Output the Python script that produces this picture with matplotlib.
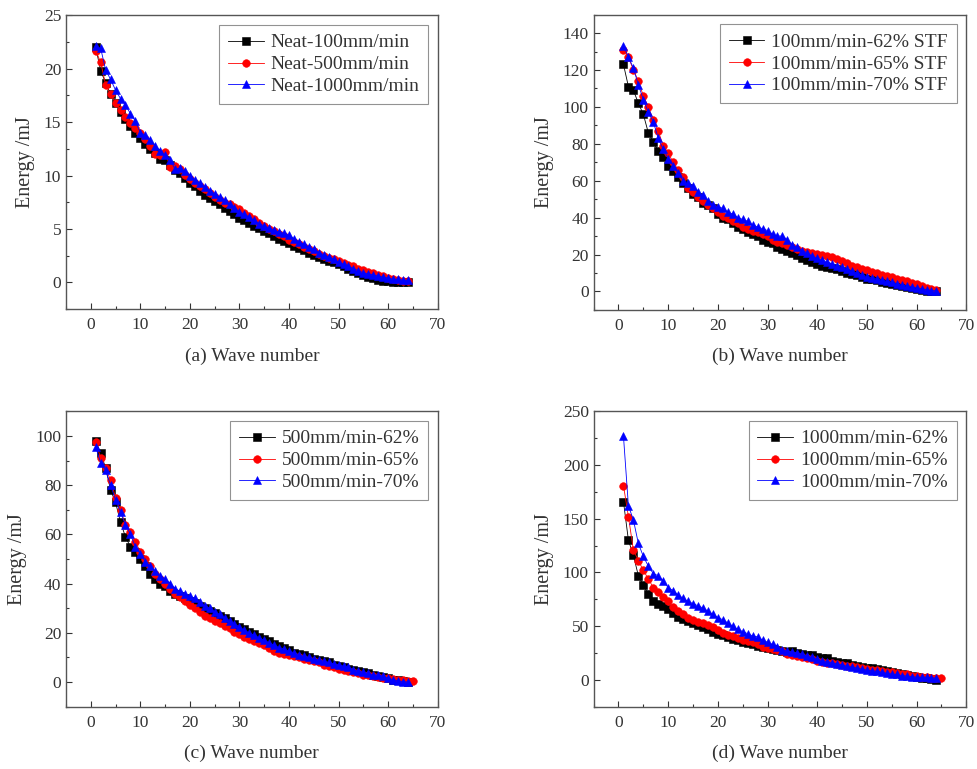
import matplotlib
matplotlib.use("Agg")
import matplotlib.pyplot as plt
from matplotlib.ticker import MultipleLocator, AutoMinorLocator

plt.rcParams['font.family'] = ['Liberation Serif', 'DejaVu Serif']

# ---------------- data ----------------
# (a) neat
a_labels = ["Neat-100mm/min", "Neat-500mm/min", "Neat-1000mm/min"]
a_black = [22.0, 19.8, 18.7, 17.6, 16.8, 16.0, 15.3, 14.6, 14.0, 13.5, 13.0, 12.5, 12.1, 11.6, 11.5,
           11.0, 10.5, 10.2, 9.8, 9.3, 9.0, 8.6, 8.2, 7.9, 7.6, 7.3, 7.0, 6.7, 6.4, 6.0,
           5.8, 5.6, 5.3, 5.1, 4.8, 4.6, 4.3, 4.1, 3.9, 3.7, 3.4, 3.2, 3.0, 2.8, 2.6,
           2.4, 2.2, 2.0, 1.9, 1.7, 1.5, 1.3, 1.1, 0.9, 0.7, 0.5, 0.4, 0.25, 0.15, 0.1,
           0.05, 0.0, 0.0, 0.0]
a_red = [21.7, 20.6, 18.5, 17.6, 16.8, 16.1, 15.5, 14.9, 14.5, 14.0, 13.4, 12.8, 12.0, 11.9, 12.2,
         10.8, 10.9, 10.6, 10.1, 9.7, 9.3, 9.0, 8.7, 8.4, 8.0, 7.7, 7.4, 7.3, 7.1, 6.9,
         6.5, 6.2, 5.9, 5.6, 5.3, 5.0, 4.8, 4.5, 4.3, 4.0, 3.8, 3.6, 3.3, 3.1, 2.9,
         2.7, 2.5, 2.3, 2.2, 2.0, 1.8, 1.6, 1.5, 1.3, 1.2, 1.0, 0.9, 0.7, 0.6, 0.4,
         0.3, 0.2, 0.15, 0.1]
a_blue = [22.1, 21.9, 19.9, 19.0, 18.0, 17.2, 16.6, 15.8, 15.1, 14.0, 13.8, 13.3, 12.8, 12.3, 11.9,
          11.5, 10.6, 10.7, 10.4, 10.0, 9.6, 9.3, 8.9, 8.6, 8.3, 8.0, 7.7, 7.3, 7.0, 6.6,
          6.4, 6.1, 5.8, 5.5, 5.3, 5.1, 4.9, 4.7, 4.6, 4.4, 4.1, 3.8, 3.6, 3.3, 3.1,
          2.8, 2.6, 2.4, 2.2, 1.9, 1.7, 1.5, 1.3, 1.1, 0.9, 0.8, 0.7, 0.6, 0.5, 0.4,
          0.3, 0.3, 0.2, 0.2]

# (b) 100 mm/min
b_labels = ["100mm/min-62% STF", "100mm/min-65% STF", "100mm/min-70% STF"]
b_black = [123, 111, 109, 102, 96, 86, 81, 76, 73, 68, 65, 62, 59, 56, 53,
           51, 48, 47, 45, 42, 40, 39, 37, 35, 34, 32, 31, 30, 28, 27,
           26, 24, 23, 22, 21, 20, 18, 17, 16, 15, 14, 13.5, 12.5, 12, 11,
           10, 9.5, 9, 8, 7, 6.5, 6, 5, 4.5, 4, 3.5, 3, 2.5, 2, 1.5,
           1, 0.5, 0.3, 0]
b_red = [131, 127, 120, 114, 106, 100, 93, 87, 79, 75, 70, 66, 62, 56, 54,
         51, 49, 47, 45, 43, 41, 40, 38, 37, 35, 34, 33, 32, 31, 30,
         28, 27, 26, 25, 24, 23, 22, 21.5, 21, 20.5, 20, 19, 18.5, 17.5, 16.5,
         15.5, 14, 13, 12, 11.5, 10.5, 10, 9, 8.5, 8, 7, 6, 5.5, 4.5, 4,
         3, 2, 1.5, 1]
b_blue = [133, 127, 121, 112, 104, 97, 92, 83, 77, 72, 68, 64, 60, 59, 57,
          54, 52, 49, 47, 46, 45, 43, 42, 40, 39, 38, 36, 35, 34, 33,
          31, 30, 30, 28, 25, 24, 22, 21, 19, 18, 17, 16, 15, 14, 13,
          12, 11, 10, 9, 8, 7.5, 7, 6, 5.5, 5, 4, 3.5, 3, 2.5, 2,
          1.5, 1, 0.5, 0.3]

# (c) 500 mm/min
c_labels = ["500mm/min-62%", "500mm/min-65%", "500mm/min-70%"]
c_black = [98, 93, 87, 78, 73, 65, 59, 55, 53, 50, 47, 44, 42, 40, 39,
           37, 36, 35, 34, 33, 32, 31, 30, 29, 28, 27, 26, 25, 23.5, 22.5,
           21.5, 20.5, 19.5, 18.5, 17.5, 16.5, 15.5, 14.5, 14, 13, 12, 11.5, 11, 10, 9.5,
           9, 8.5, 8, 7, 6.5, 6, 5.5, 5, 4.5, 4, 3.5, 3, 2.5, 2, 1.5,
           1, 0.7, 0.4, 0.2]
c_red = [97.5, 91, 87, 82, 75, 70, 64, 61, 57, 53, 50, 47, 44, 42, 40,
         38, 36, 34.5, 33, 31.5, 30, 28.5, 27, 26, 25, 24, 23, 22, 20.5, 19.5,
         18.5, 17.5, 16.5, 16, 15, 14, 12.5, 12, 11.5, 11, 10.5, 10, 9.5, 9, 8.5,
         8, 7, 6.5, 6, 5.5, 5, 4.5, 4, 3.5, 3, 2.8, 2.5, 2, 1.8, 1.5,
         1.2, 1, 0.8, 0.6, 0.5]
c_blue = [95.5, 89, 86, 80, 74, 69, 64, 60, 55, 52, 49, 47, 45, 43, 42,
          40, 38, 37, 36, 35, 34, 32.5, 31, 30, 28.5, 27.5, 26, 25, 23.5, 22.5,
          21, 20, 19, 18, 17, 16, 15, 14, 13.5, 12.5, 12, 11, 10.5, 10, 9.5,
          9, 8.5, 8, 7.5, 7, 6.5, 6, 5, 4.5, 4, 3.5, 3, 2.8, 2.5, 1.5,
          1, 0.5, 0.2, 0]

# (d) 1000 mm/min
d_labels = ["1000mm/min-62%", "1000mm/min-65%", "1000mm/min-70%"]
d_black = [166, 130, 116, 97, 88, 80, 73, 71, 69, 66, 62, 59, 57, 55, 53,
           51, 49, 47, 45, 43, 42, 40, 38, 37, 35, 34, 33, 32, 31, 30,
           29, 28, 27, 26, 27, 25, 24, 23, 23, 21, 20, 20, 18, 17, 16,
           16, 14, 13, 12, 11.5, 11, 10.5, 9, 8, 7, 6.5, 5.5, 4.5, 3.5, 2.5,
           2, 1.5, 0.5, 0]
d_red = [181, 152, 121, 111, 102, 94, 86, 82, 77, 73, 68, 64, 61, 58, 56,
         54, 53, 51, 49, 46, 44, 42, 41, 39, 37, 36, 35, 33, 31, 30,
         29, 28, 27, 24, 23, 22, 21, 20, 19, 18, 17, 16, 15.5, 15, 14,
         13, 12.5, 12, 11, 10, 9.5, 9, 8, 7.5, 7, 6, 5.5, 5, 4, 3.5,
         3, 2.5, 2, 1.5, 1.5]
d_blue = [227, 162, 149, 127, 115, 106, 99, 97, 92, 86, 83, 79, 76, 73, 71,
          69, 67, 64, 61, 58, 56, 53, 50, 47, 45, 43, 41, 40, 37, 35,
          33, 31, 28, 27, 26, 25, 24, 22, 21, 19, 18, 17, 16, 15, 14,
          12.5, 12, 11, 10, 9, 8.5, 8, 7, 6, 5.5, 5, 4, 3.5, 3, 2.5,
          2.5, 2.5, 2, 1.5]

panels = [
    ("(a) Wave number", a_labels, [a_black, a_red, a_blue], (-5, 70), (-2.5, 25), 5),
    ("(b) Wave number", b_labels, [b_black, b_red, b_blue], (-5, 70), (-10, 150), 20),
    ("(c) Wave number", c_labels, [c_black, c_red, c_blue], (-5, 70), (-10, 110), 20),
    ("(d) Wave number", d_labels, [d_black, d_red, d_blue], (-5, 70), (-25, 250), 50),
]

colors = ["black", "red", "blue"]
markers = ["s", "o", "^"]
positions = [
    [0.0675, 0.598, 0.380, 0.382],
    [0.607, 0.597, 0.381, 0.384],
    [0.0675, 0.081, 0.380, 0.384],
    [0.607, 0.081, 0.381, 0.384],
]

fig = plt.figure(figsize=(9.78, 7.69), dpi=100)
txt = "#333333"
for pos, (xl, labels, series, xlim, ylim, ymaj) in zip(positions, panels):
    ax = fig.add_axes(pos)
    for s, c, m, lab in zip(series, colors, markers, labels):
        x = list(range(1, len(s) + 1))
        ax.plot(x, s, color=c, marker=m, ms=5.5, lw=0.6, label=lab,
                markeredgewidth=0.4)
    ax.set_xlim(*xlim)
    ax.set_ylim(*ylim)
    ax.xaxis.set_major_locator(MultipleLocator(10))
    ax.xaxis.set_minor_locator(MultipleLocator(5))
    ax.yaxis.set_major_locator(MultipleLocator(ymaj))
    ax.yaxis.set_minor_locator(AutoMinorLocator(2))
    ax.tick_params(which="both", direction="in", top=False, right=False,
                   labelsize=12.5, colors=txt)
    ax.tick_params(axis="x", pad=6)
    ax.tick_params(which="major", length=4.5, width=0.8)
    ax.tick_params(which="minor", length=2.5, width=0.8)
    for sp in ax.spines.values():
        sp.set_color("#555555")
        sp.set_linewidth(1.0)
    ax.set_xlabel(xl, fontsize=14, color=txt, labelpad=10)
    ax.set_ylabel("Energy /mJ", fontsize=14.5, color=txt, labelpad=6)
    leg = ax.legend(loc="upper right", fontsize=14, frameon=True, fancybox=False,
                    edgecolor="#777777", handlelength=1.85, handletextpad=0.35,
                    borderpad=0.45, labelspacing=0.22, borderaxespad=0.5)
    leg.get_frame().set_linewidth(0.8)
    for t in leg.get_texts():
        t.set_color(txt)

fig.savefig("out.png", dpi=100)
